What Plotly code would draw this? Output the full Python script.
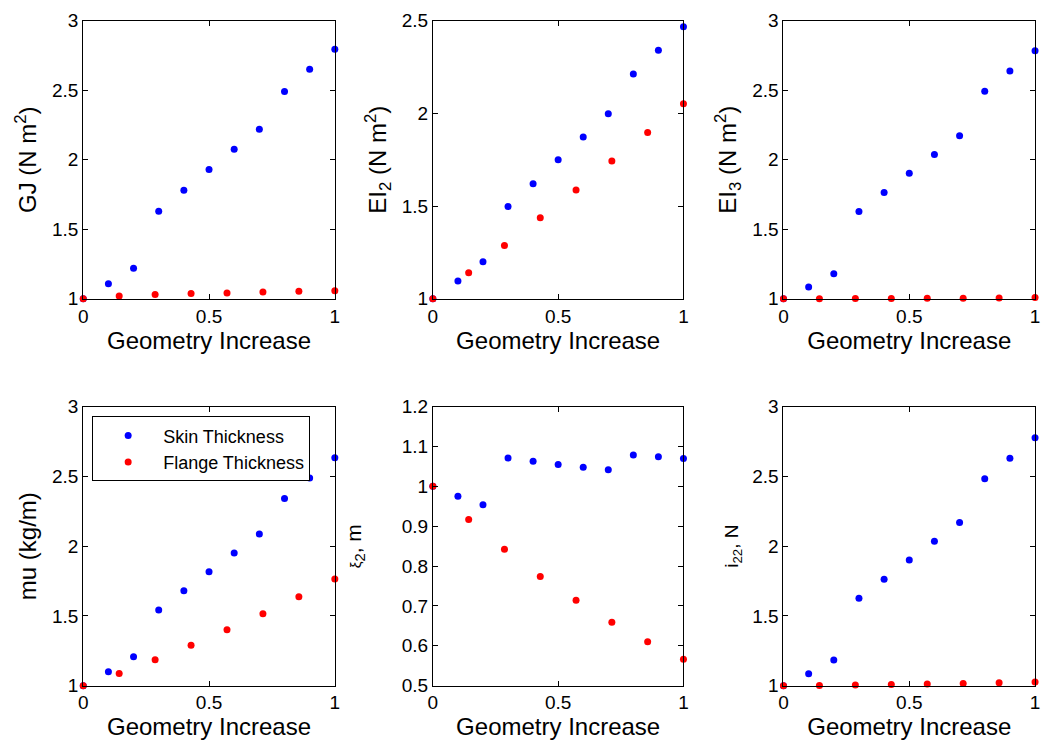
import plotly.graph_objects as go

# ---------------- data ----------------
x_skin = [0.0, 0.1, 0.2, 0.3, 0.4, 0.5, 0.6, 0.7, 0.8, 0.9, 1.0]
x_flange = [0.0, 1/7, 2/7, 3/7, 4/7, 5/7, 6/7, 1.0]

gj_skin = [1.0, 1.107, 1.22, 1.63, 1.78, 1.93, 2.075, 2.22, 2.49, 2.65, 2.795]
gj_flange = [1.0, 1.02, 1.03, 1.037, 1.042, 1.049, 1.054, 1.058]

ei2_skin = [1.0, 1.096, 1.20, 1.497, 1.62, 1.75, 1.872, 1.998, 2.213, 2.341, 2.467]
ei2_flange = [1.0, 1.14, 1.287, 1.437, 1.587, 1.743, 1.897, 2.052]

ei3_skin = [1.0, 1.084, 1.18, 1.627, 1.765, 1.902, 2.037, 2.172, 2.492, 2.639, 2.783]
ei3_flange = [1.0, 1.0, 1.001, 1.002, 1.003, 1.004, 1.006, 1.008]

mu_skin = [1.0, 1.10, 1.207, 1.542, 1.68, 1.816, 1.951, 2.088, 2.342, 2.488, 2.633]
mu_flange = [1.0, 1.088, 1.186, 1.29, 1.40, 1.516, 1.637, 1.765]

xi2_skin = [1.0, 0.975, 0.954, 1.071, 1.063, 1.055, 1.048, 1.042, 1.079, 1.074, 1.070]
xi2_flange = [1.0, 0.917, 0.842, 0.774, 0.714, 0.659, 0.61, 0.566]

i22_skin = [1.0, 1.086, 1.184, 1.626, 1.763, 1.90, 2.035, 2.17, 2.484, 2.63, 2.777]
i22_flange = [1.0, 1.002, 1.005, 1.009, 1.012, 1.016, 1.021, 1.026]

x_ticks = [0, 0.5, 1]
y_ranges = [[1, 3], [1, 2.5], [1, 3], [1, 3], [0.5, 1.2], [1, 3]]
y_dticks = [0.5, 0.5, 0.5, 0.5, 0.1, 0.5]
y_titles = [
    "GJ (N m<sup>2</sup>)",
    "EI<sub>2</sub> (N m<sup>2</sup>)",
    "EI<sub>3</sub> (N m<sup>2</sup>)",
    "mu (kg/m)",
    "<span style='font-size:15px'>ξ</span><sub>2</sub>, m",
    "i<sub>22</sub>, N",
]
y_title_sizes = [24, 24, 24, 24, 21, 19]
y_title_standoffs = [8, 8, 8, 8, 34, 8]
x_title = "Geometry Increase"
series_names = ["Skin Thickness", "Flange Thickness"]

skin_sets = [gj_skin, ei2_skin, ei3_skin, mu_skin, xi2_skin, i22_skin]
flange_sets = [gj_flange, ei2_flange, ei3_flange, mu_flange, xi2_flange, i22_flange]

# ---------------- layout geometry ----------------
W, H = 1046, 755
x_doms = [(79, 333), (432, 685), (786, 1040)]
y_doms = [(11, 297), (408, 695)]

FONT = "Liberation Sans, Arial, Helvetica, sans-serif"
BLUE = "#0000ff"
RED = "#ff0000"

fig = go.Figure()
layout = {}
for i in range(6):
    r, c = divmod(i, 3)
    n = i + 1
    xa = "x" if n == 1 else f"x{n}"
    ya = "y" if n == 1 else f"y{n}"
    fig.add_trace(go.Scatter(
        x=x_skin, y=skin_sets[i], mode="markers", xaxis=xa, yaxis=ya,
        marker=dict(color=BLUE, size=7), name=series_names[0],
        showlegend=(i == 3), cliponaxis=False))
    fig.add_trace(go.Scatter(
        x=x_flange, y=flange_sets[i], mode="markers", xaxis=xa, yaxis=ya,
        marker=dict(color=RED, size=7), name=series_names[1],
        showlegend=(i == 3), cliponaxis=False))
    x0, x1 = x_doms[c]
    y0, y1 = y_doms[r]
    common = dict(showgrid=False, zeroline=False, showline=True, linecolor="black",
                  linewidth=1, mirror="ticks", ticks="inside", ticklen=5,
                  tickcolor="black", tickfont=dict(family=FONT, size=19, color="black"))
    layout[f"xaxis{'' if n == 1 else n}"] = dict(
        domain=[x0 / W, x1 / W], anchor=ya, range=[0, 1], tickvals=x_ticks,
        title=dict(text=x_title, font=dict(family=FONT, size=24, color="black"), standoff=2),
        **common)
    layout[f"yaxis{'' if n == 1 else n}"] = dict(
        domain=[1 - y1 / H, 1 - y0 / H], anchor=xa, range=y_ranges[i],
        dtick=y_dticks[i], tick0=y_ranges[i][0],
        title=dict(text=y_titles[i],
                   font=dict(family=FONT, size=y_title_sizes[i], color="black"),
                   standoff=y_title_standoffs[i]),
        **common)

fig.update_layout(
    width=W, height=H,
    margin=dict(l=0, r=0, t=0, b=0),
    paper_bgcolor="white", plot_bgcolor="white",
    font=dict(family=FONT, color="black"),
    legend=dict(x=88 / W, y=1 - 418 / H, xanchor="left", yanchor="top",
                bgcolor="white", bordercolor="black", borderwidth=1,
                font=dict(family=FONT, size=18, color="black"),
                itemwidth=60, tracegroupgap=0),
    **layout,
)

fig.write_html("out.html")
